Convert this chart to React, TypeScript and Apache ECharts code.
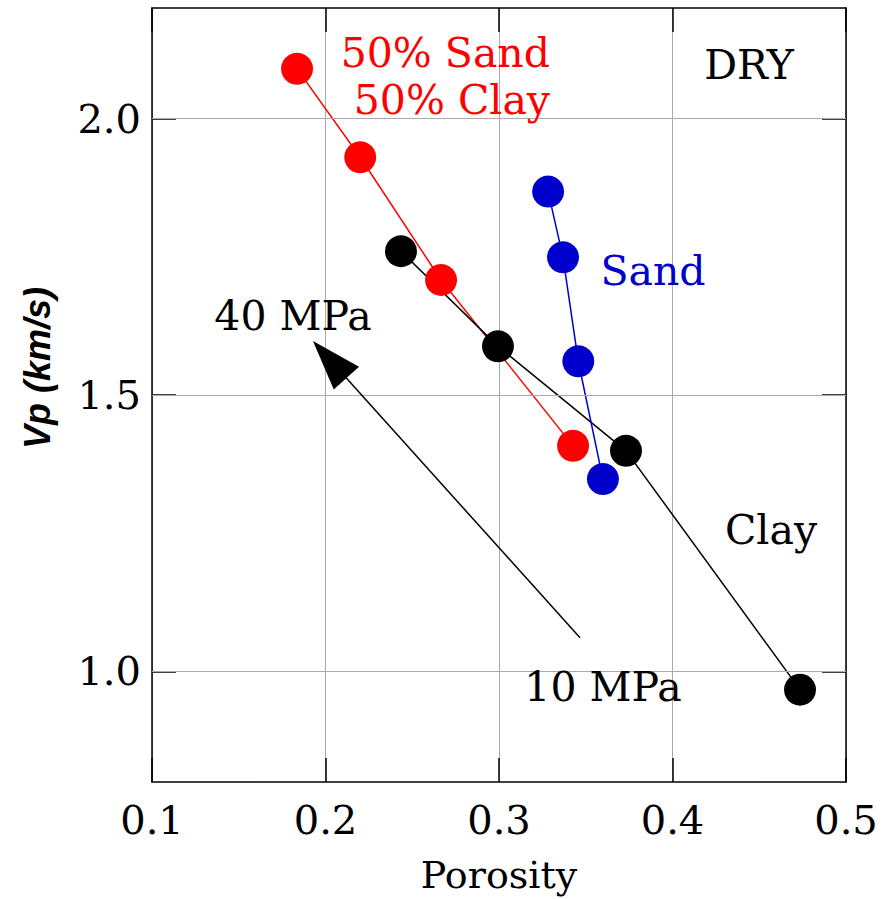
import React, { useEffect, useRef } from "react";
import * as echarts from "echarts";

// Dry P-wave velocity versus porosity for three lithologies (10 -> 40 MPa)
const porosityMix = [0.1836, 0.22, 0.2666, 0.3427];
const vpMix = [2.09, 1.93, 1.708, 1.408];

const porosityClay = [0.2435, 0.2994, 0.3732, 0.4735];
const vpClay = [1.76, 1.588, 1.399, 0.967];

const porositySand = [0.3283, 0.3369, 0.3457, 0.3599];
const vpSand = [1.868, 1.749, 1.561, 1.348];

const xTicks = [0.1, 0.2, 0.3, 0.4, 0.5];
const yTicks = [1.0, 1.5, 2.0];

// pressure arrow, in (porosity, Vp)
const pressureFrom = [0.3467, 1.061];
const pressureTo = [0.2024, 1.564];

const SERIF = "'DejaVu Serif', serif";
const SANS = "'Liberation Sans', Arial, sans-serif";
const RED = "#ff0000";
const BLUE = "#0000cc";

const pairs = (xs: number[], ys: number[]) => xs.map((x, i) => [x, ys[i]]);

export default function App() {
  const ref = useRef<HTMLDivElement>(null);

  useEffect(() => {
    document.body.style.margin = "0";
    if (!ref.current) return;
    const chart = echarts.init(ref.current, undefined, { renderer: "svg" });

    const tickStyle = { color: "#000", width: 1.5 };
    const lineSeries = (name: string, data: number[][], color: string) => ({
      name,
      type: "line",
      data,
      symbol: "circle",
      symbolSize: 32,
      z: 3,
      lineStyle: { color, width: 1.5 },
      itemStyle: { color, borderWidth: 0 },
    });

    const text = (t: string, x: number, y: number, color: string, align = "center") => ({
      type: "text",
      x,
      y,
      z: 10,
      style: {
        text: t,
        fill: color,
        font: `41px ${SERIF}`,
        align,
        verticalAlign: "middle",
      },
    });

    chart.setOption({
      animation: false,
      backgroundColor: "#fff",
      grid: { left: 152, right: 39, top: 8, bottom: 114 },
      xAxis: [
        {
          type: "value",
          min: xTicks[0],
          max: xTicks[xTicks.length - 1],
          interval: 0.1,
          position: "bottom",
          name: "Porosity",
          nameLocation: "middle",
          nameGap: 74,
          nameTextStyle: { fontFamily: SERIF, fontSize: 38, color: "#000" },
          axisLine: { show: true, onZero: false, lineStyle: tickStyle },
          axisTick: { show: true, inside: true, length: 24, lineStyle: tickStyle },
          axisLabel: {
            fontFamily: SERIF,
            fontSize: 40,
            color: "#000",
            margin: 18,
            formatter: (v: number) => v.toFixed(1),
          },
          splitLine: { show: true, lineStyle: { color: "#aaaaaa", width: 1 } },
        },
        {
          type: "value",
          min: xTicks[0],
          max: xTicks[xTicks.length - 1],
          interval: 0.1,
          position: "top",
          axisLine: { show: true, onZero: false, lineStyle: tickStyle },
          axisTick: { show: true, inside: true, length: 24, lineStyle: tickStyle },
          axisLabel: { show: false },
          splitLine: { show: false },
        },
      ],
      yAxis: [
        {
          type: "value",
          min: 0.8,
          max: 2.2,
          position: "left",
          axisLine: { show: true, onZero: false, lineStyle: tickStyle },
          axisTick: { show: true, inside: true, length: 24, lineStyle: tickStyle, customValues: yTicks },
          axisLabel: {
            fontFamily: SERIF,
            fontSize: 40,
            color: "#000",
            margin: 11,
            customValues: yTicks,
            formatter: (v: number) => v.toFixed(1),
          },
          splitLine: { show: false },
        },
        {
          type: "value",
          min: 0.8,
          max: 2.2,
          position: "right",
          axisLine: { show: true, onZero: false, lineStyle: tickStyle },
          axisTick: { show: true, inside: true, length: 24, lineStyle: tickStyle, customValues: yTicks },
          axisLabel: { show: false, customValues: yTicks },
          splitLine: { show: false },
        },
      ],
      series: [
        {
          name: "grid",
          type: "line",
          data: [],
          z: 1,
          silent: true,
          markLine: {
            silent: true,
            symbol: "none",
            label: { show: false },
            lineStyle: { color: "#aaaaaa", width: 1, type: "solid" },
            data: yTicks.map((v) => ({ yAxis: v })),
          },
        },
        {
          name: "pressure",
          type: "line",
          data: [],
          z: 2,
          silent: true,
          markLine: {
            silent: true,
            symbol: ["none", "triangle"],
            symbolSize: [34, 50],
            label: { show: false },
            lineStyle: { color: "#000", width: 1.5, type: "solid" },
            itemStyle: { color: "#000" },
            data: [[{ coord: pressureFrom }, { coord: pressureTo }]],
          },
        },
        lineSeries("50% Sand 50% Clay", pairs(porosityMix, vpMix), RED),
        lineSeries("Clay", pairs(porosityClay, vpClay), "#000"),
        lineSeries("Sand", pairs(porositySand, vpSand), BLUE),
      ],
      graphic: [
        {
          type: "text",
          x: 37,
          y: 368,
          rotation: Math.PI / 2,
          z: 10,
          style: {
            text: "Vp (km/s)",
            fill: "#000",
            font: `italic bold 36px ${SANS}`,
            align: "center",
            verticalAlign: "middle",
          },
        },
        text("50% Sand", 550, 53, RED, "right"),
        text("50% Clay", 550, 100, RED, "right"),
        text("DRY", 749, 65, "#000"),
        text("Sand", 653, 271, BLUE),
        text("Clay", 771, 530, "#000"),
        text("40 MPa", 293, 316, "#000"),
        text("10 MPa", 603, 687, "#000"),
      ],
    });

    return () => chart.dispose();
  }, []);

  return <div ref={ref} style={{ width: 885, height: 899 }} />;
}
